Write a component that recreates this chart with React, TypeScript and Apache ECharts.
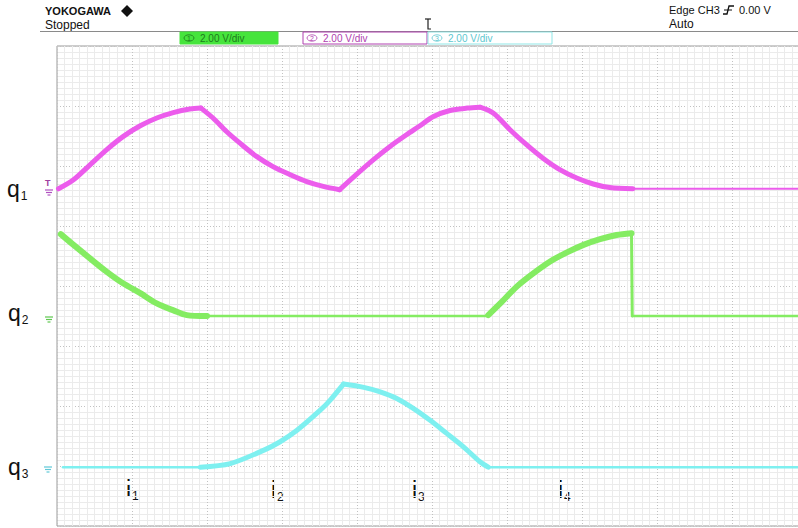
import React, { useEffect, useRef } from "react";
import * as echarts from "echarts";

// Screen geometry: 10 horizontal divisions, 8 vertical divisions, 2.00 V/div on every channel
const VOLTS_PER_DIV = 2;
const X_DIVS = 10;
const Y_DIVS = 8;

// Ground level of each channel, in divisions above the bottom of the screen
const q1Ground = 5.62;
const q2Ground = 3.5;
const q3Ground = 0.98;

// Waveforms as [time (div), voltage (V)] pairs, one array per arc of the trace
const q1Rise1 = [[0.02, 0], [0.22, 0.3], [0.44, 0.8], [0.66, 1.3], [0.88, 1.74], [1.11, 2.1], [1.33, 2.36], [1.55, 2.54], [1.77, 2.66], [1.92, 2.69]];
const q1Fall1 = [[1.92, 2.69], [2.08, 2.36], [2.26, 1.91], [2.44, 1.52], [2.66, 1.08], [2.88, 0.74], [3.11, 0.47], [3.33, 0.24], [3.55, 0.08], [3.77, -0.03]];
const q1Rise2 = [[3.77, -0.03], [3.99, 0.47], [4.22, 0.97], [4.44, 1.41], [4.66, 1.8], [4.84, 2.1], [5.02, 2.41], [5.24, 2.61], [5.47, 2.69], [5.64, 2.72]];
const q1Fall2 = [[5.64, 2.72], [5.82, 2.52], [6.04, 1.97], [6.26, 1.47], [6.48, 1.02], [6.71, 0.63], [6.93, 0.36], [7.15, 0.16], [7.37, 0.04], [7.68, 0]];
const q1Idle = [[7.68, 0], [10, 0]];

const q2Fall = [[0.05, 2.73], [0.22, 2.37], [0.44, 1.92], [0.66, 1.48], [0.88, 1.09], [1.11, 0.76], [1.33, 0.42], [1.56, 0.18], [1.73, 0.03], [2.0, 0]];
const q2Idle1 = [[2.0, 0], [5.75, 0]];
const q2Rise = [[5.75, 0.03], [5.91, 0.42], [6.13, 0.98], [6.35, 1.42], [6.57, 1.81], [6.8, 2.12], [7.02, 2.37], [7.24, 2.56], [7.46, 2.7], [7.66, 2.76]];
const q2Drop = [[7.66, 2.76], [7.67, 0]];
const q2Idle2 = [[7.67, 0], [10, 0]];

const q3Idle1 = [[0.08, 0], [1.91, 0]];
const q3Rise = [[1.91, 0], [2.31, 0.12], [2.76, 0.57], [2.97, 0.84], [3.2, 1.23], [3.51, 1.9], [3.64, 2.23], [3.82, 2.77]];
const q3Fall = [[3.82, 2.77], [4.09, 2.66], [4.31, 2.51], [4.53, 2.29], [4.75, 1.96], [4.97, 1.57], [5.2, 1.12], [5.42, 0.68], [5.64, 0.18], [5.75, 0]];
const q3Idle2 = [[5.75, 0], [10, 0]];

const traceLabels = ["1", "2", "3"];
const intervalLabels = ["1", "2", "3", "4"];
const scaleText = "2.00 V/div";
const triggerText = "Edge CH3";
const triggerLevel = "0.00 V";

const MAGENTA = "#ec5cec";
const GREEN = "#84ec62";
const CYAN = "#7ef0f0";

const FONT = "'Liberation Sans', Arial, sans-serif";

const toScreen = (pts: number[][], ground: number) =>
  pts.map(([t, v]) => [t, ground + v / VOLTS_PER_DIV]);

const trace = (name: string, pts: number[][], ground: number, color: string, width: number, smooth: number) => ({
  name,
  type: "line",
  data: toScreen(pts, ground),
  showSymbol: false,
  symbol: "none",
  smooth,
  silent: true,
  lineStyle: { color, width, cap: "round", join: "round" },
});

const groundIcon = (x: number, y: number, color: string) => ({
  type: "group",
  children: [
    { type: "line", shape: { x1: x - 4, y1: y, x2: x + 4, y2: y }, style: { stroke: color, lineWidth: 1.2 } },
    { type: "line", shape: { x1: x - 3, y1: y + 2.5, x2: x + 3, y2: y + 2.5 }, style: { stroke: color, lineWidth: 1.2 } },
    { type: "line", shape: { x1: x - 1.5, y1: y + 5, x2: x + 1.5, y2: y + 5 }, style: { stroke: color, lineWidth: 1.2 } },
  ],
});

const subLabel = (letter: string, sub: string, x: number, y: number) => ({
  type: "text",
  x,
  y,
  style: {
    text: `{a|${letter}}{b|${sub}}`,
    fill: "#111",
    verticalAlign: "middle",
    rich: {
      a: { fontFamily: FONT, fontSize: 23, lineHeight: 26, fill: "#111" },
      b: { fontFamily: FONT, fontSize: 12, lineHeight: 12, verticalAlign: "bottom", fill: "#111", padding: [0, 0, 0, 1] },
    },
  },
});

const channelBox = (x: number, w: number, num: string, color: string, textColor: string, filled: boolean) => ({
  type: "group",
  children: [
    {
      type: "rect",
      shape: { x, y: 32, width: w, height: 12 },
      style: { fill: filled ? color : "#fff", stroke: color, lineWidth: 1 },
    },
    { type: "ellipse", shape: { cx: x + 9, cy: 38, rx: 5, ry: 3.2 }, style: { fill: "none", stroke: textColor, lineWidth: 0.8 } },
    { type: "text", x: x + 9, y: 38, style: { text: num, fill: textColor, font: `7px ${FONT}`, align: "center", verticalAlign: "middle" } },
    { type: "text", x: x + 20, y: 38.5, style: { text: scaleText, fill: textColor, font: `10px ${FONT}`, verticalAlign: "middle" } },
  ],
});

const option = {
  animation: false,
  backgroundColor: "#ffffff",
  grid: {
    left: 57,
    top: 46,
    right: 0,
    height: 480,
    show: true,
    borderColor: "#9a9a9a",
    borderWidth: 1,
    backgroundColor: "transparent",
  },
  xAxis: {
    type: "value",
    min: 0,
    max: X_DIVS,
    interval: 1,
    axisLine: { show: false },
    axisTick: { show: false },
    axisLabel: { show: false },
    splitLine: { show: true, lineStyle: { color: "#c2c2c2", width: 1, type: [1, 2] } },
    minorTick: { show: false, splitNumber: 10 },
    minorSplitLine: { show: true, lineStyle: { color: "#ebebeb", width: 1 } },
  },
  yAxis: {
    type: "value",
    min: 0,
    max: Y_DIVS,
    interval: 1,
    axisLine: { show: false },
    axisTick: { show: false },
    axisLabel: { show: false },
    splitLine: { show: true, lineStyle: { color: "#c2c2c2", width: 1, type: [1, 2] } },
    minorTick: { show: false, splitNumber: 10 },
    minorSplitLine: { show: true, lineStyle: { color: "#ebebeb", width: 1 } },
  },
  series: [
    trace("q1 idle", q1Idle, q1Ground, MAGENTA, 2, 0),
    trace("q1", q1Rise1, q1Ground, MAGENTA, 5, 0.3),
    trace("q1", q1Fall1, q1Ground, MAGENTA, 5, 0.3),
    trace("q1", q1Rise2, q1Ground, MAGENTA, 5, 0.3),
    trace("q1", q1Fall2, q1Ground, MAGENTA, 5, 0.3),

    trace("q2 idle", q2Idle1, q2Ground, GREEN, 2.5, 0),
    trace("q2 idle", q2Idle2, q2Ground, GREEN, 2.5, 0),
    trace("q2", q2Fall, q2Ground, GREEN, 6, 0.3),
    trace("q2", q2Rise, q2Ground, GREEN, 6, 0.3),
    trace("q2 drop", q2Drop, q2Ground, GREEN, 3, 0),

    trace("q3 idle", q3Idle1, q3Ground, CYAN, 2.5, 0),
    trace("q3 idle", q3Idle2, q3Ground, CYAN, 2.5, 0),
    trace("q3", q3Rise, q3Ground, CYAN, 5, 0.3),
    trace("q3", q3Fall, q3Ground, CYAN, 5, 0.3),
  ],
  graphic: [
    // instrument header
    { type: "text", x: 45, y: 5, style: { text: "YOKOGAWA", fill: "#111", font: `bold 11px ${FONT}` } },
    { type: "polygon", shape: { points: [[127, 5], [133, 11], [127, 17], [121, 11]] }, style: { fill: "#111" } },
    { type: "text", x: 45, y: 19, style: { text: "Stopped", fill: "#111", font: `12px ${FONT}` } },
    { type: "line", shape: { x1: 40, y1: 31.5, x2: 807, y2: 31.5 }, style: { stroke: "#8a8a8a", lineWidth: 1 } },
    channelBox(180, 98, "1", "#46e43c", "#1d7a1d", true),
    channelBox(303, 124, "2", "#b040b0", "#b040b0", false),
    channelBox(428, 124, "3", "#8fe6e6", "#5cc8d0", false),
    // trigger position marker
    {
      type: "polyline",
      shape: { points: [[425, 19], [431, 19]] },
      style: { stroke: "#222", lineWidth: 1.2, fill: "none" },
    },
    {
      type: "polyline",
      shape: { points: [[428, 19], [428, 29], [431, 29]] },
      style: { stroke: "#222", lineWidth: 1.2, fill: "none" },
    },
    // trigger settings
    { type: "text", x: 669, y: 4, style: { text: triggerText, fill: "#111", font: `11px ${FONT}` } },
    {
      type: "polyline",
      shape: { points: [[723, 14], [727, 14], [729, 6], [734, 6]] },
      style: { stroke: "#111", lineWidth: 1.3, fill: "none" },
    },
    { type: "line", shape: { x1: 724, y1: 10, x2: 732, y2: 10 }, style: { stroke: "#111", lineWidth: 1 } },
    { type: "text", x: 739, y: 4, style: { text: triggerLevel, fill: "#111", font: `11px ${FONT}` } },
    { type: "text", x: 669, y: 18, style: { text: "Auto", fill: "#111", font: `12px ${FONT}` } },

    // channel ground markers
    { type: "text", x: 45, y: 178, style: { text: "T", fill: "#a040a0", font: `bold 9px ${FONT}` } },
    groundIcon(49, 190, "#b050c0"),
    groundIcon(49, 317, "#60c850"),
    groundIcon(48, 467, "#60c8d8"),

    // trace names
    subLabel("q", traceLabels[0], 7, 189),
    subLabel("q", traceLabels[1], 8, 313),
    subLabel("q", traceLabels[2], 8, 467),

    // interval names
    subLabel("i", intervalLabels[0], 126, 489),
    subLabel("i", intervalLabels[1], 271, 490),
    subLabel("i", intervalLabels[2], 412, 490),
    subLabel("i", intervalLabels[3], 558, 490),
  ],
};

export default function App() {
  const ref = useRef<HTMLDivElement>(null);
  useEffect(() => {
    document.body.style.margin = "0";
    const chart = echarts.init(ref.current as HTMLDivElement, null, { renderer: "svg" });
    chart.setOption(option as any);
    return () => chart.dispose();
  }, []);
  // The screen is ten divisions wide; the last 0.12 division falls past the right edge of the page.
  return (
    <div style={{ width: 798, height: 528, overflow: "hidden" }}>
      <div ref={ref} style={{ width: 807, height: 528 }} />
    </div>
  );
}
